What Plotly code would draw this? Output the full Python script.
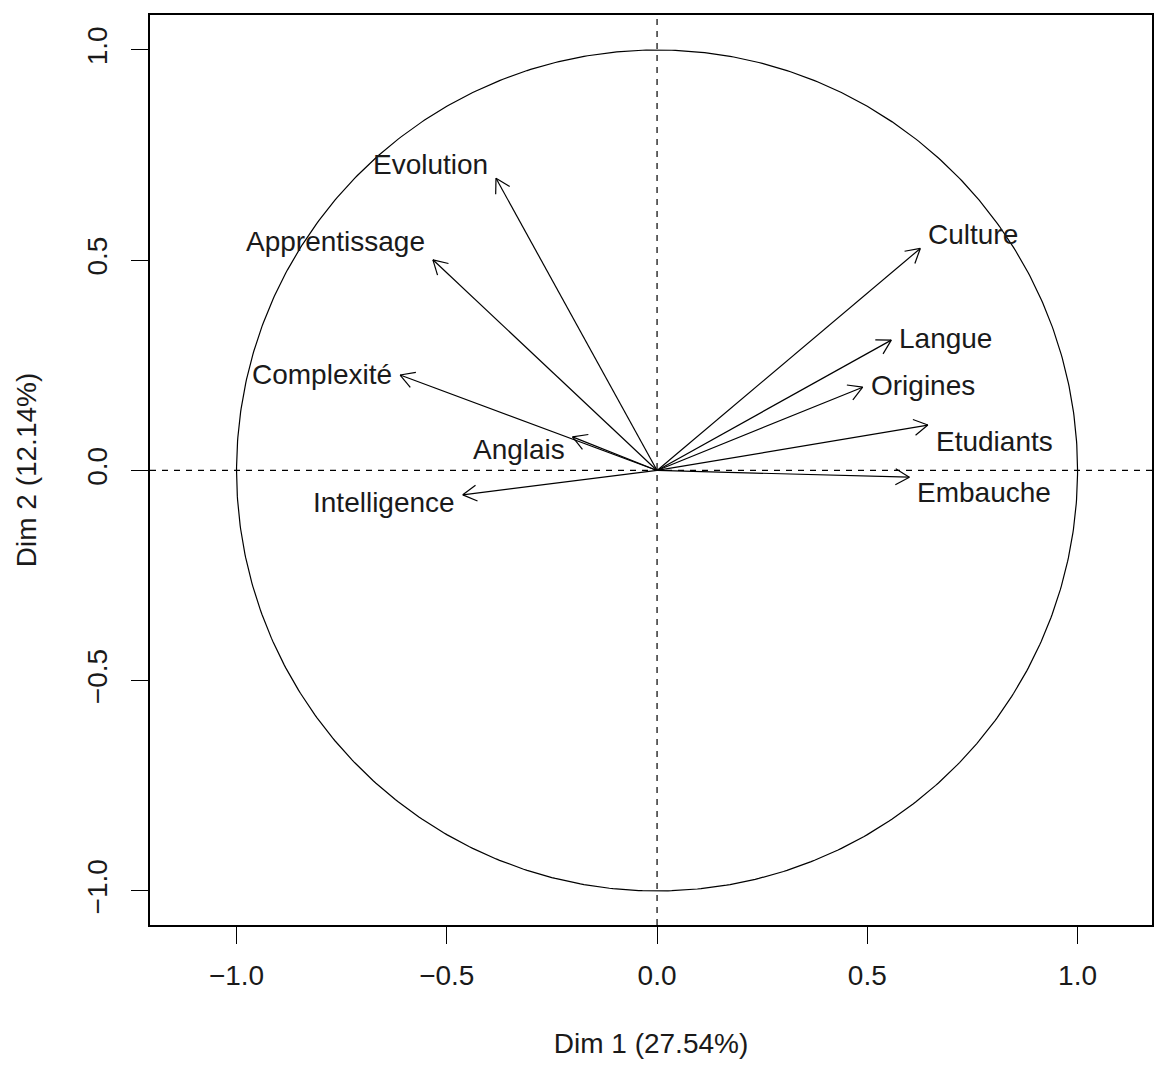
import numpy as np
import plotly.graph_objects as go

# PCA variable coordinates (correlation circle)
variables = ['Evolution', 'Apprentissage', 'Complexité', 'Anglais', 'Intelligence',
             'Culture', 'Langue', 'Origines', 'Etudiants', 'Embauche']
dim1 = [-0.383, -0.533, -0.611, -0.201, -0.462, 0.626, 0.557, 0.489, 0.644, 0.600]
dim2 = [0.695, 0.501, 0.227, 0.080, -0.058, 0.528, 0.310, 0.198, 0.108, -0.016]

x_title = 'Dim 1 (27.54%)'
y_title = 'Dim 2 (12.14%)'
tick_vals = [-1.0, -0.5, 0.0, 0.5, 1.0]
tick_text = ['\u22121.0', '\u22120.5', '0.0', '0.5', '1.0']

# vertical label nudges in pixels (mimics autoLab placement)
label_dy = [14, 18, 1, -13, -8, 14, 2, 2, -16, -15]

FONT = 'Liberation Sans, Arial, sans-serif'
TXT = '#1a1a1a'

fig = go.Figure()

# unit circle
theta = np.linspace(0, 2 * np.pi, 721)
fig.add_trace(go.Scatter(x=np.cos(theta), y=np.sin(theta), mode='lines',
                         line=dict(color='black', width=1.2), hoverinfo='skip'))

# arrows: shaft + open V head
head_len = 0.038
head_ang = np.deg2rad(30)
xs, ys = [], []
for x, y in zip(dim1, dim2):
    ang = np.arctan2(y, x)
    xs += [0, x, None]
    ys += [0, y, None]
    for s in (1, -1):
        a = ang + np.pi + s * head_ang
        xs += [x + head_len * np.cos(a), x, None]
        ys += [y + head_len * np.sin(a), y, None]
fig.add_trace(go.Scatter(x=xs, y=ys, mode='lines',
                         line=dict(color='black', width=1.2), hoverinfo='skip'))

# labels
for name, x, y, dy in zip(variables, dim1, dim2, label_dy):
    fig.add_annotation(x=x, y=y, text=name, showarrow=False,
                       xanchor='left' if x > 0 else 'right', yanchor='middle',
                       xshift=6 if x > 0 else -6, yshift=dy,
                       font=dict(family=FONT, size=28, color=TXT))

# dashed reference lines
fig.add_shape(type='line', xref='paper', x0=0, x1=1, yref='y', y0=0, y1=0,
              line=dict(color='black', width=1.2, dash='6px,6px'))
fig.add_shape(type='line', xref='x', x0=0, x1=0, yref='paper', y0=0, y1=1,
              line=dict(color='black', width=1.2, dash='6px,6px'))

axis_common = dict(
    tickvals=tick_vals, ticktext=tick_text, ticks='outside', ticklen=17,
    tickwidth=1.3, tickcolor='black', showgrid=False, zeroline=False,
    showline=True, linecolor='black', linewidth=1.6, mirror=True,
    tickfont=dict(family=FONT, size=28, color=TXT),
)

fig.update_xaxes(range=[-1.2058, 1.177], ticklabelstandoff=8,
                 title=dict(text=x_title, standoff=43,
                            font=dict(family=FONT, size=28, color=TXT)),
                 **axis_common)
fig.update_yaxes(range=[-1.081, 1.0832], tickangle=-90, ticklabelstandoff=13,
                 title=dict(text=y_title, standoff=37,
                            font=dict(family=FONT, size=28, color=TXT)),
                 **axis_common)

fig.update_layout(
    width=1155, height=1066,
    margin=dict(l=150, r=1, t=15, b=141),
    plot_bgcolor='white', paper_bgcolor='white',
    showlegend=False,
)

# drop the default page margin so the figure sits at the window origin
fig.write_html('out.html', config={'displayModeBar': False},
               post_script="document.body.style.margin='0';")
